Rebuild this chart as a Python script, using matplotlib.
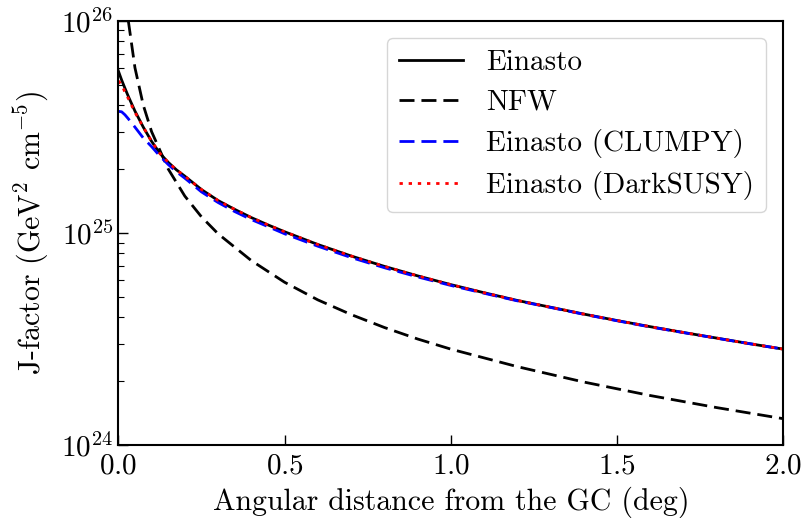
import matplotlib
matplotlib.use('Agg')
import matplotlib.pyplot as plt

plt.rcParams['font.family'] = 'serif'
plt.rcParams['font.serif'] = ['cmr10']
plt.rcParams['mathtext.fontset'] = 'cm'
plt.rcParams['axes.formatter.use_mathtext'] = True
plt.rcParams['axes.unicode_minus'] = False

# angular distance (deg) and J-factors (GeV^2 cm^-5)
x_ein = [0.0, 0.01, 0.02, 0.03, 0.05, 0.075, 0.1, 0.125, 0.15, 0.175, 0.2,
         0.25, 0.3, 0.35, 0.4, 0.45, 0.5, 0.6, 0.7, 0.8, 0.9, 1.0, 1.1, 1.2,
         1.3, 1.4, 1.5, 1.6, 1.7, 1.8, 1.9, 2.0]
j_ein = [5.8e25, 5.25e25, 4.8e25, 4.4e25, 3.75e25, 3.15e25, 2.7e25, 2.37e25,
         2.15e25, 1.98e25, 1.85e25, 1.6e25, 1.42e25, 1.29e25, 1.18e25,
         1.09e25, 1.012e25, 8.81e24, 7.78e24, 6.95e24, 6.27e24, 5.7e24,
         5.22e24, 4.8e24, 4.46e24, 4.14e24, 3.86e24, 3.61e24, 3.39e24,
         3.19e24, 3.0e24, 2.83e24]

x_nfw = [0.015, 0.02, 0.03, 0.05, 0.075, 0.1, 0.15, 0.2, 0.25, 0.3, 0.4, 0.5,
         0.6, 0.7, 0.8, 0.9, 1.0, 1.2, 1.4, 1.6, 1.8, 2.0]
j_nfw = [2.0e26, 1.5e26, 1.0e26, 6.0e25, 4.0e25, 3.0e25, 2.0e25, 1.49e25,
         1.19e25, 9.9e24, 7.4e24, 5.85e24, 4.83e24, 4.12e24, 3.58e24,
         3.16e24, 2.83e24, 2.34e24, 1.98e24, 1.71e24, 1.5e24, 1.33e24]

x_clumpy = [0.0, 0.01, 0.02, 0.03, 0.05, 0.075, 0.1, 0.125, 0.15, 0.175, 0.2,
            0.25, 0.3, 0.35, 0.4, 0.45, 0.5, 0.6, 0.7, 0.8, 0.9, 1.0, 1.1,
            1.2, 1.3, 1.4, 1.5, 1.6, 1.7, 1.8, 1.9, 2.0]
j_clumpy = [3.74e25, 3.72e25, 3.6e25, 3.45e25, 3.15e25, 2.8e25, 2.55e25,
            2.3e25, 2.1e25, 1.94e25, 1.81e25, 1.56e25, 1.39e25, 1.26e25,
            1.155e25, 1.07e25, 9.9e24, 8.65e24, 7.65e24, 6.85e24, 6.2e24,
            5.65e24, 5.19e24, 4.78e24, 4.45e24, 4.13e24, 3.85e24, 3.6e24,
            3.385e24, 3.185e24, 3.0e24, 2.83e24]

x_ds = [0.0, 0.01, 0.02, 0.03, 0.05, 0.075, 0.1, 0.125, 0.15, 0.175, 0.2,
        0.25, 0.3, 0.35, 0.4, 0.45, 0.5, 0.6, 0.7, 0.8, 0.9, 1.0, 1.1, 1.2,
        1.3, 1.4, 1.5, 1.6, 1.7, 1.8, 1.9, 2.0]
j_ds = [5.2e25, 5.0e25, 4.6e25, 4.3e25, 3.7e25, 3.15e25, 2.7e25, 2.37e25,
        2.15e25, 1.98e25, 1.85e25, 1.6e25, 1.42e25, 1.29e25, 1.18e25,
        1.09e25, 1.012e25, 8.81e24, 7.78e24, 6.95e24, 6.27e24, 5.7e24,
        5.22e24, 4.8e24, 4.46e24, 4.14e24, 3.86e24, 3.61e24, 3.39e24,
        3.19e24, 3.0e24, 2.83e24]

fig, ax = plt.subplots(figsize=(8.05, 5.18), dpi=100)

ax.plot(x_ein, j_ein, color='black', linestyle='-', lw=2, label='Einasto')
ax.plot(x_nfw, j_nfw, color='black', lw=2, dashes=(5.4, 2.5), label='NFW')
ax.plot(x_clumpy, j_clumpy, color='blue', lw=2, dashes=(5.4, 2.5),
        label='Einasto (CLUMPY)')
ax.plot(x_ds, j_ds, color='red', lw=2, dashes=(1.2, 2.1),
        label='Einasto (DarkSUSY)')

ax.set_yscale('log')
ax.set_xlim(0, 2)
ax.set_ylim(1e24, 1e26)
ax.set_xticks([0.0, 0.5, 1.0, 1.5, 2.0])
ax.set_xlabel('Angular distance from the GC (deg)', fontsize=21.5, labelpad=5)
ax.set_ylabel('J-factor (GeV$^2$ cm$^{-5}$)', fontsize=21.5, labelpad=8)
ax.tick_params(which='both', direction='in', labelsize=21)
ax.tick_params(axis='x', pad=6)
ax.tick_params(which='major', length=7, width=1)
ax.tick_params(which='minor', length=4, width=0.8)
for s in ax.spines.values():
    s.set_linewidth(1.5)

ax.legend(loc='upper right', fontsize=21, handlelength=2.2, labelspacing=0.45,
          borderaxespad=0.6)

plt.subplots_adjust(left=0.147, right=0.973, top=0.96, bottom=0.141)
plt.savefig('out.png', dpi=100)
